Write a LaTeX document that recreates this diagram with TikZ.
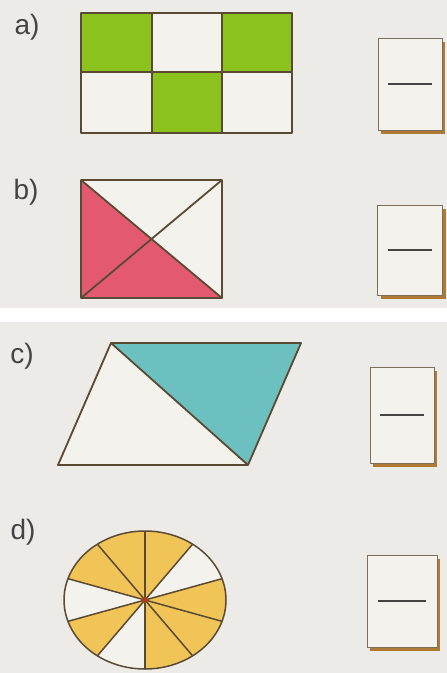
\documentclass[tikz,border=0pt]{standalone}
\usepackage{fontspec}
\setmainfont{Liberation Sans}
\usetikzlibrary{shadows}
\definecolor{paper}{HTML}{ECEBE7}
\definecolor{card}{HTML}{F4F2EC}
\definecolor{leaf}{HTML}{8CC21E}
\definecolor{rose}{HTML}{E35A70}
\definecolor{sea}{HTML}{6CC0C0}
\definecolor{honey}{HTML}{F0C457}
\definecolor{edge}{HTML}{5B4A33}
\definecolor{ink}{HTML}{444444}
\definecolor{rust}{HTML}{B07A35}
\definecolor{hub}{HTML}{B03A12}

\tikzset{
  tag/.style={font=\fontsize{28}{28}\selectfont,text=ink,inner sep=0pt},
  outline/.style={draw=edge,line width=1.8pt,line join=round},
  answerbox/.style={rectangle,draw=edge!80,line width=1pt,fill=card,
    drop shadow={shadow xshift=3pt,shadow yshift=-3.5pt,fill=rust,opacity=1}},
  fracbar/.style={draw=ink,line width=2pt},
}

\begin{document}
\begin{tikzpicture}[x=1pt,y=1pt]
\fill[paper] (0,0) rectangle (447,-673);
\fill[white] (0,-308) rectangle (447,-322);
\useasboundingbox (0,0) rectangle (447,-673);

% a) grid of six cells
\node[tag] (la) at (27,-27) {a)};
\fill[card] (81,-13) rectangle (292,-133);
\fill[leaf] (81,-13) rectangle (152,-72) (222,-13) rectangle (292,-72) (152,-72) rectangle (222,-133);
\draw[outline] (81,-13) rectangle (292,-133) (152,-13) -- (152,-133) (222,-13) -- (222,-133) (81,-72) -- (292,-72);
\node[answerbox,minimum width=64pt,minimum height=92pt] (boxa) at (410,-84) {};
\draw[fracbar] ([xshift=-22pt]boxa.center) -- ([xshift=22pt]boxa.center);

% b) rectangle cut by diagonals
\node[tag] (lb) at (26,-192) {b)};
\fill[card] (81,-180) rectangle (222,-298);
\fill[rose] (81,-180) -- (151.5,-239) -- (222,-298) -- (81,-298) -- cycle;
\draw[outline] (81,-180) rectangle (222,-298) (81,-180) -- (222,-298) (222,-180) -- (81,-298);
\node[answerbox,minimum width=65pt,minimum height=90pt] (boxb) at (410,-250) {};
\draw[fracbar] ([xshift=-22pt]boxb.center) -- ([xshift=22pt]boxb.center);

% c) parallelogram
\node[tag] (lc) at (22,-356) {c)};
\fill[card] (58,-465) -- (111,-343) -- (248,-465) -- cycle;
\fill[sea] (111,-343) -- (301,-343) -- (248,-465) -- cycle;
\draw[outline] (111,-343) -- (301,-343) -- (248,-465) -- (58,-465) -- cycle (111,-343) -- (248,-465);
\node[answerbox,minimum width=64pt,minimum height=96pt] (boxc) at (402,-415) {};
\draw[fracbar] ([xshift=-22pt]boxc.center) -- ([xshift=22pt]boxc.center);

% d) ellipse in ten parts
\node[tag] (ld) at (23,-532) {d)};
\begin{scope}[shift={(145,-600)}]
\fill[card] (0,0) ellipse [x radius=81,y radius=69];
\foreach \a in {90,18,-18,-54,-126,162,126}
  \fill[honey] (0,0) -- ({81*cos(\a)},{69*sin(\a)}) arc[start angle=\a,delta angle=-36,x radius=81,y radius=69] -- cycle;
\foreach \a in {90,54,18,-18,-54}
  \draw[outline,line width=1.5pt] ({81*cos(\a)},{69*sin(\a)}) -- ({-81*cos(\a)},{-69*sin(\a)});
\draw[outline,line width=1.5pt] (0,0) ellipse [x radius=81,y radius=69];
\fill[hub] (0,0) circle (3);
\end{scope}
\node[answerbox,minimum width=70pt,minimum height=92pt] (boxd) at (402,-601) {};
\draw[fracbar] ([xshift=-24pt]boxd.center) -- ([xshift=24pt]boxd.center);
\end{tikzpicture}
\end{document}
